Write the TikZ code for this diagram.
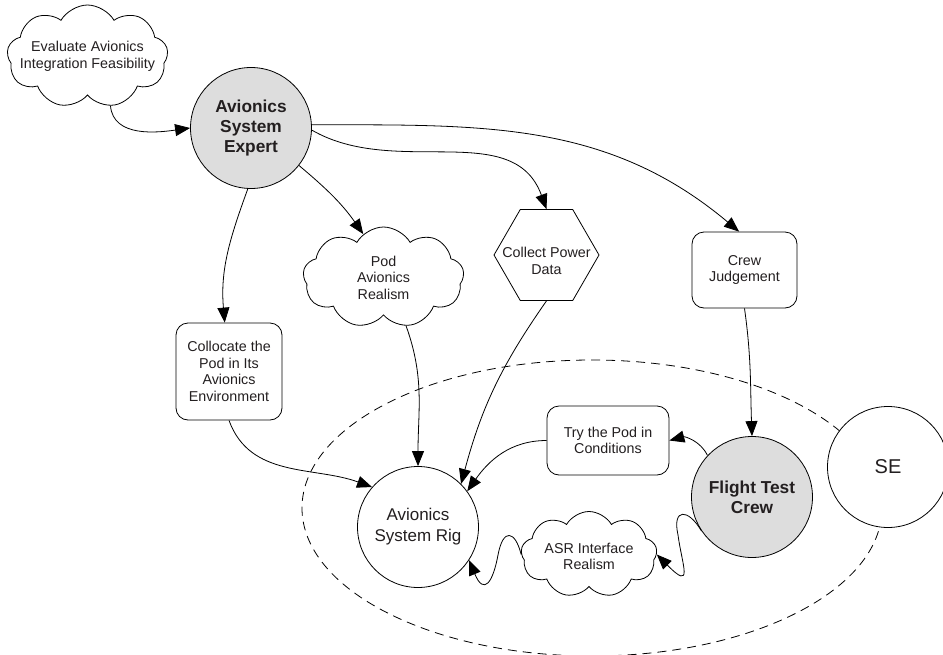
\documentclass[tikz,border=0pt]{standalone}
\usepackage{fontspec}
\setmainfont{Liberation Sans}
\usepackage{tikz}
\usetikzlibrary{arrows.meta,shapes,positioning}
\definecolor{crewGray}{RGB}{221,221,221}
\definecolor{inkGray} {RGB}{35,31,32}

\begin{document}
\begin{tikzpicture}[x=1pt,y=-1pt,
          txt/.style={font=\fontsize{14.3}{16.5}\selectfont,align=center,text=inkGray},
          roundbox/.style={txt,draw,fill=white,rounded corners=12pt,inner sep=2pt,line width=0.8pt},
          cloudy/.style={cloud,cloud puffs=9,cloud puff arc=120,cloud ignores aspect,
                         draw,fill=white,inner sep=0pt,line width=0.8pt},
          hexa/.style={regular polygon,regular polygon sides=6,draw,fill=white,
                       minimum size=105pt,inner sep=0pt,line width=0.8pt},
          actor/.style={circle,draw,fill=white,minimum size=121pt,inner sep=0pt,align=center,
                        text=inkGray,font=\fontsize{17}{21}\selectfont,line width=0.8pt},
          crew/.style={actor,fill=crewGray,font=\bfseries\fontsize{17.3}{20}\selectfont},
          arr/.style={-{Triangle[length=15pt,width=12pt]},line width=0.8pt},
        ]
        \useasboundingbox (0,0) rectangle (943,654);
        % Fronteira
        \draw[dash pattern=on 9pt off 6pt,line width=0.8pt] (592,508) ellipse [x radius=290pt,y radius=148pt];

        % Atores
        \node[crew]  (expert) at (251,128) {Avionics\\System\\Expert};
        \node[actor] (rig)    at (418,527) {Avionics\\System Rig};
        \node[crew]  (flight) at (752,497) {Flight Test\\Crew};
        \node[actor,font=\fontsize{20}{24}\selectfont] (se) at (888,467) {SE};

        % Tarefas
        \node[cloudy,minimum width=161pt,minimum height=103pt,
              label={[txt]center:{Evaluate Avionics\\Integration Feasibility}}] (eval) at (87.5,56.5) {};
        \node[cloudy,minimum width=161pt,minimum height=101pt,
              label={[txt]center:{Pod\\Avionics\\Realism}}] (pod) at (383.5,277.5) {};
        \node[cloudy,minimum width=136pt,minimum height=86pt,
              label={[txt,yshift=-2pt]center:{ASR Interface\\Realism}}] (asr) at (589,554.5) {};
        \node[hexa,label={[txt,yshift=-6pt]center:{Collect Power\\Data}}] (collect) at (546.5,255) {};
        \node[roundbox,minimum width=105pt,minimum height=76pt] (judge) at (744.5,270) {Crew\\Judgement};
        \node[roundbox,minimum width=106pt,minimum height=97pt] (collocate) at (229,371.5)
              {Collocate the\\Pod in Its\\Avionics\\Environment};
        \node[roundbox,minimum width=122pt,minimum height=69pt] (trypod) at (608,440.5)
              {Try the Pod in\\Conditions};

        % Ligacoes
        \foreach \a/\b/\o/\i in {eval.-65/expert.west/-85/188,
                                 expert.3/judge.98/0/140,
                                 expert.-2/collect.north/-30/110,
                                 expert.-38/pod.115/-40/125,
                                 expert.-93/collocate.95/-110/95,
                                 pod.-65/rig.north/-70/90,
                                 collect.south/rig.45/-125/75,
                                 trypod.west/rig.36/180/55,
                                 collocate.south/rig.139/-70/160,
                                 judge.south/flight.north/-82/92,
                                 flight.137/trypod.east/115/15}{
          \draw[arr] (\a) to[out=\o,in=\i] (\b);
        }
        \draw[arr] (flight.214) .. controls (688,508) and (672,508) .. (678,535)
                   .. controls (682,565) and (694,592) .. (asr.east);
        \draw[arr] (asr.west) .. controls (515,530) and (503,528) .. (498,555)
                   .. controls (493,582) and (484,596) .. (rig.-33);
      \end{tikzpicture}
\end{document}
